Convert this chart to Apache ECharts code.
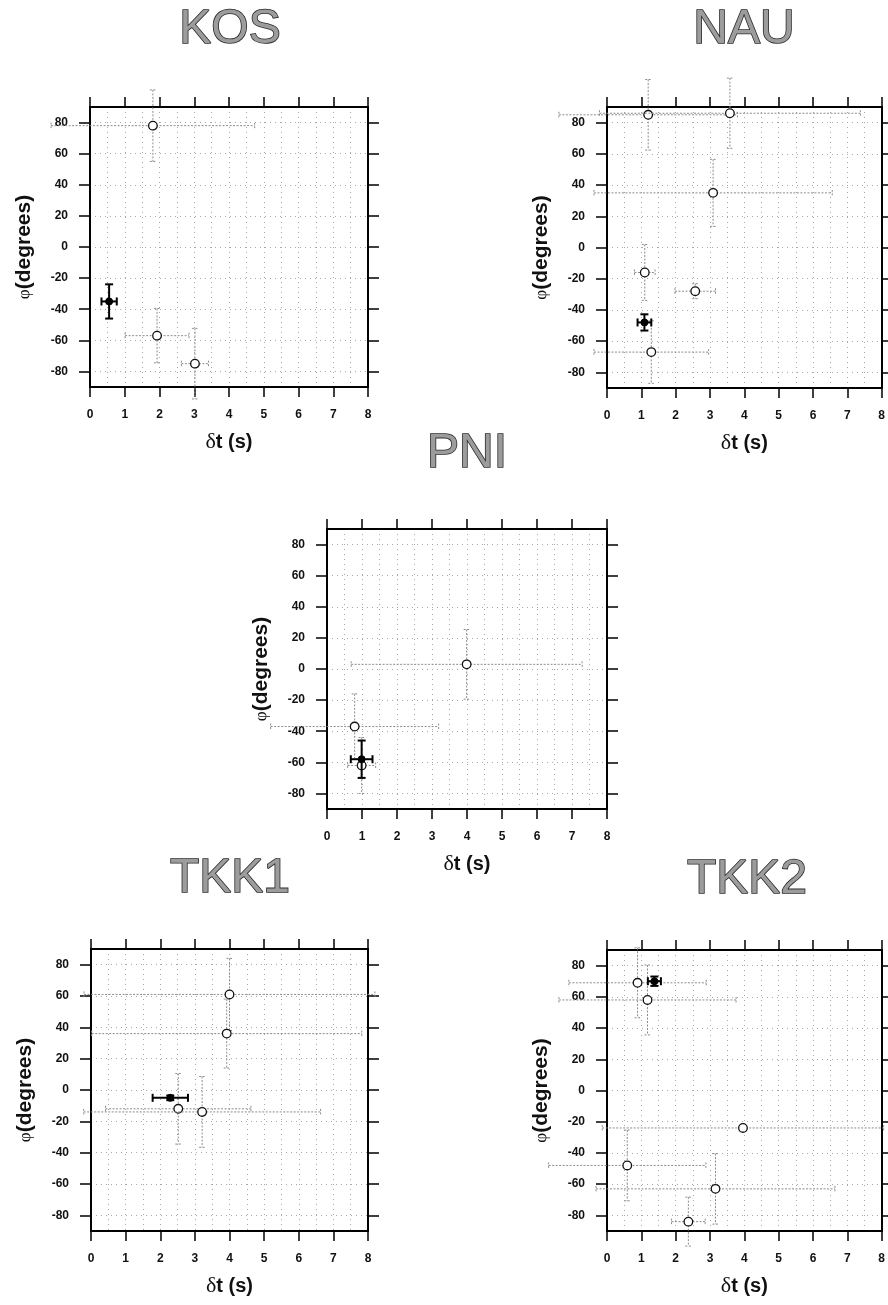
<!DOCTYPE html>
<html>
<head>
<meta charset="utf-8">
<script src="https://cdn.jsdelivr.net/npm/echarts@6/dist/echarts.min.js"></script>
<style>
  html, body { margin: 0; padding: 0; background: #fff; }
  #chart { width: 888px; height: 1305px; }
</style>
</head>
<body>
<div id="chart"></div>
<script>
var stations = ["KOS", "NAU", "PNI", "TKK1", "TKK2"];
var xTicks = [0, 1, 2, 3, 4, 5, 6, 7, 8];
var yTicks = [-80, -60, -40, -20, 0, 20, 40, 60, 80];

// single measurements (open circles): delay time, its error, fast direction, its error
var kosDt = [1.81, 1.93, 3.02];
var kosDtErr = [2.93, 0.92, 0.39];
var kosPhi = [78, -57, -75];
var kosPhiErr = [23, 17.5, 22.7];

var nauDt = [1.2, 3.58, 3.09, 1.1, 2.57, 1.29];
var nauDtErr = [2.6, 3.8, 3.47, 0.3, 0.59, 1.67];
var nauPhi = [85, 86, 35, -16, -28, -67];
var nauPhiErr = [22.6, 22.5, 21.5, 17.9, 4.8, 20];

var pniDt = [3.99, 0.79, 0.99];
var pniDtErr = [3.3, 2.4, 0.4];
var pniPhi = [3, -37, -62];
var pniPhiErr = [22.4, 21, 18];

var tkk1Dt = [4.0, 3.92, 2.52, 3.21];
var tkk1DtErr = [4.2, 3.9, 2.1, 3.42];
var tkk1Phi = [61, 36, -12, -14];
var tkk1PhiErr = [23, 22, 22.5, 22.6];

var tkk2Dt = [0.89, 1.18, 3.96, 0.59, 3.16, 2.37];
var tkk2DtErr = [2.0, 2.58, 4.1, 2.29, 3.48, 0.49];
var tkk2Phi = [69, 58, -24, -48, -63, -84];
var tkk2PhiErr = [22.4, 22.4, 0, 22.7, 22.6, 15.7];

// stacked result (black): dt, dtErr, phi, phiErr
var kosBest = [0.55, 0.22, -35, 11];
var nauBest = [1.09, 0.2, -48, 5.2];
var pniBest = [0.99, 0.31, -58, 12];
var tkk1Best = [2.29, 0.51, -5, 1.5];
var tkk2Best = [1.38, 0.19, 70, 3];

var singles = [
  [kosDt, kosDtErr, kosPhi, kosPhiErr],
  [nauDt, nauDtErr, nauPhi, nauPhiErr],
  [pniDt, pniDtErr, pniPhi, pniPhiErr],
  [tkk1Dt, tkk1DtErr, tkk1Phi, tkk1PhiErr],
  [tkk2Dt, tkk2DtErr, tkk2Phi, tkk2PhiErr]
];
var bests = [kosBest, nauBest, pniBest, tkk1Best, tkk2Best];

// panel layout
var panels = [
  { left: 90, top: 107, width: 278, height: 280, titleX: 230, titleY: 6 },
  { left: 607, top: 107, width: 280, height: 281, titleX: 744, titleY: 6 },
  { left: 327, top: 529, width: 280, height: 280, titleX: 467, titleY: 430 },
  { left: 91, top: 949, width: 277, height: 282, titleX: 230, titleY: 855 },
  { left: 607, top: 950, width: 279, height: 281, titleX: 747, titleY: 856 }
];

var font = "Liberation Sans";
var boxLine = { color: "#000", width: 2 };
var gridStyle = { color: "#a8a8a8", width: 1, type: [1, 4] };

function renderBars(isBest) {
  return function (params, api) {
    var x = api.value(0), y = api.value(1), ex = api.value(2), ey = api.value(3);
    var c = api.coord([x, y]);
    var style = isBest
      ? { stroke: "#000", lineWidth: 2, fill: null }
      : { stroke: "#8c8c8c", lineWidth: 1, lineDash: [2, 1.5], fill: null };
    var cap = isBest ? 4 : 3;
    var kids = [];
    if (ex > 0) {
      var l = api.coord([x - ex, y]), r = api.coord([x + ex, y]);
      kids.push({ type: "line", shape: { x1: l[0], y1: l[1], x2: r[0], y2: r[1] }, style: style });
      kids.push({ type: "line", shape: { x1: l[0], y1: l[1] - cap, x2: l[0], y2: l[1] + cap }, style: style });
      kids.push({ type: "line", shape: { x1: r[0], y1: r[1] - cap, x2: r[0], y2: r[1] + cap }, style: style });
    }
    if (ey > 0) {
      var t = api.coord([x, y + ey]), b = api.coord([x, y - ey]);
      kids.push({ type: "line", shape: { x1: t[0], y1: t[1], x2: b[0], y2: b[1] }, style: style });
      kids.push({ type: "line", shape: { x1: t[0] - cap, y1: t[1], x2: t[0] + cap, y2: t[1] }, style: style });
      kids.push({ type: "line", shape: { x1: b[0] - cap, y1: b[1], x2: b[0] + cap, y2: b[1] }, style: style });
    }
    kids.push({
      type: "circle",
      shape: { cx: c[0], cy: c[1], r: isBest ? 3.5 : 4.3 },
      style: isBest ? { fill: "#000", stroke: "#000", lineWidth: 1 } : { fill: "#fff", stroke: "#111", lineWidth: 1.3 }
    });
    return { type: "group", children: kids };
  };
}

var grids = [], xAxes = [], yAxes = [], series = [], titles = [];

panels.forEach(function (p, i) {
  grids.push({ left: p.left, top: p.top, width: p.width, height: p.height, containLabel: false });
  titles.push({
    text: stations[i], left: p.titleX, top: p.titleY, textAlign: "center", padding: 0,
    textStyle: { fontSize: 48, fontWeight: "normal", fontFamily: font, color: "#9c9c9c", textBorderColor: "#2a2a2a", textBorderWidth: 1.6 }
  });

  xAxes.push({
    type: "value", gridIndex: i, position: "bottom", min: 0, max: 8, interval: 1,
    name: "{g|δ}t (s)", nameLocation: "middle", nameGap: 44,
    nameTextStyle: {
      fontSize: 20, fontWeight: "bold", fontFamily: font, color: "#111",
      rich: { g: { fontSize: 22, fontFamily: "Liberation Serif", fontWeight: "normal", color: "#111" } }
    },
    axisLine: { onZero: false, lineStyle: boxLine },
    axisTick: { length: 10, lineStyle: { color: "#000", width: 1.5 } },
    axisLabel: { margin: 22, fontSize: 12, fontWeight: "bold", fontFamily: font, color: "#111" },
    splitLine: { show: true, lineStyle: gridStyle },
    minorTick: { show: false, splitNumber: 2 },
    minorSplitLine: { show: true, lineStyle: gridStyle }
  });
  xAxes.push({
    type: "value", gridIndex: i, position: "top", min: 0, max: 8, interval: 1,
    axisLine: { onZero: false, lineStyle: boxLine },
    axisTick: { length: 10, lineStyle: { color: "#000", width: 1.5 } },
    axisLabel: { show: false },
    splitLine: { show: false }
  });

  yAxes.push({
    type: "value", gridIndex: i, position: "left", min: -90, max: 90, interval: 10,
    name: "{g|φ}(degrees)", nameLocation: "middle", nameGap: 55,
    nameTextStyle: {
      fontSize: 21, fontWeight: "bold", fontFamily: font, color: "#111",
      rich: { g: { fontSize: 17, fontFamily: "Liberation Serif", fontWeight: "normal", color: "#111" } }
    },
    axisLine: { onZero: false, lineStyle: boxLine },
    axisTick: { length: 11, customValues: yTicks, lineStyle: { color: "#000", width: 1.5 } },
    axisLabel: {
      margin: 22, fontSize: 12, fontWeight: "bold", fontFamily: font, color: "#111", customValues: yTicks,
      formatter: function (v) { return v % 20 === 0 ? String(v) : ""; }
    },
    splitLine: { show: true, lineStyle: gridStyle }
  });
  yAxes.push({
    type: "value", gridIndex: i, position: "right", min: -90, max: 90, interval: 10,
    axisLine: { onZero: false, lineStyle: boxLine },
    axisTick: { length: 11, customValues: yTicks, lineStyle: { color: "#000", width: 1.5 } },
    axisLabel: { show: false },
    splitLine: { show: false }
  });

  var s = singles[i];
  var data = s[0].map(function (dt, k) { return [dt, s[2][k], s[1][k], s[3][k]]; });
  var b = bests[i];
  series.push({
    type: "custom", name: stations[i], xAxisIndex: i * 2, yAxisIndex: i * 2,
    clip: false, silent: true, z: 3,
    encode: { x: 0, y: 1 },
    renderItem: renderBars(false),
    data: data
  });
  series.push({
    type: "custom", name: stations[i] + " stack", xAxisIndex: i * 2, yAxisIndex: i * 2,
    clip: false, silent: true, z: 4,
    encode: { x: 0, y: 1 },
    renderItem: renderBars(true),
    data: [[b[0], b[2], b[1], b[3]]]
  });
});

var chart = echarts.init(document.getElementById("chart"));
chart.setOption({
  animation: false,
  backgroundColor: "#fff",
  title: titles,
  grid: grids,
  xAxis: xAxes,
  yAxis: yAxes,
  series: series
});
</script>
</body>
</html>
